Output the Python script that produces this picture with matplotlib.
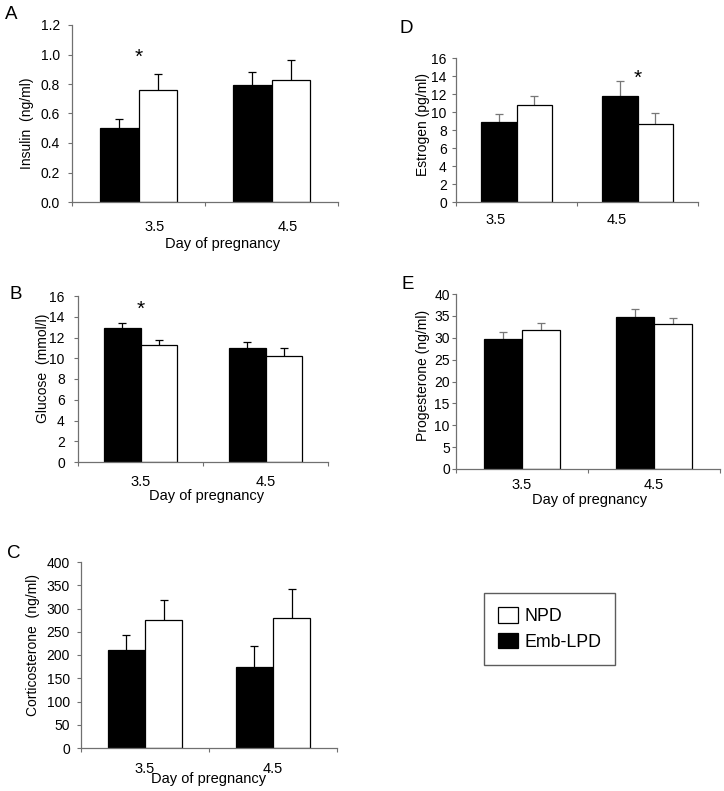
import numpy as np
import matplotlib.pyplot as plt
from matplotlib.patches import Patch

plt.rcParams['font.family'] = ['Liberation Sans', 'DejaVu Sans']

W, H = 724, 791

days = ['3.5', '4.5']
groups = ['NPD', 'Emb-LPD']

# values (mean, upper error)
insulin_lpd = [0.50, 0.795]
insulin_lpd_err = [0.06, 0.085]
insulin_npd = [0.76, 0.83]
insulin_npd_err = [0.11, 0.13]

glucose_lpd = [12.9, 11.0]
glucose_lpd_err = [0.5, 0.55]
glucose_npd = [11.3, 10.2]
glucose_npd_err = [0.45, 0.8]

cort_lpd = [211, 175]
cort_lpd_err = [32, 45]
cort_npd = [275, 279]
cort_npd_err = [44, 62]

estrogen_lpd = [8.9, 11.8]
estrogen_lpd_err = [0.9, 1.6]
estrogen_npd = [10.8, 8.7]
estrogen_npd_err = [0.95, 1.2]

prog_lpd = [29.7, 34.8]
prog_lpd_err = [1.7, 1.7]
prog_npd = [31.7, 33.1]
prog_npd_err = [1.6, 1.4]

# significance marks: (day index, y value)
insulin_star = (0, 0.98)
glucose_star = (0, 14.7)
estrogen_star = (1, 13.7)


def px_box(l, t, r, b):
    return [l / W, 1 - b / H, (r - l) / W, (b - t) / H]


def draw_panel(fig, box, letter, letter_xy, lpd, lpd_err, npd, npd_err,
               ylabel, ylabel_xy, ymax, ystep, yfmt, tick_y, tick_shift,
               xlabel_xy, ypad, errcolor, star=None):
    l, t, r, b = box
    ax = fig.add_axes(px_box(l, t, r, b))
    x = np.arange(len(days))
    w = 0.29
    ax.bar(x - w / 2, lpd, w, color='black', edgecolor='black', linewidth=0.9, zorder=2)
    ax.bar(x + w / 2, npd, w, color='white', edgecolor='black', linewidth=0.9, zorder=2)
    for xs, vals, errs in [(x - w / 2, lpd, lpd_err), (x + w / 2, npd, npd_err)]:
        eb = ax.errorbar(xs, vals, yerr=[np.zeros(len(errs)), errs], fmt='none',
                         ecolor=errcolor, elinewidth=0.9, capsize=3, capthick=0.9, zorder=1)
        eb[1][0].set_visible(False)

    ax.set_xlim(-0.5, len(days) - 0.5)
    ax.set_ylim(0, ymax)
    yt = np.arange(0, ymax + ystep / 2, ystep)
    ax.set_yticks(yt)
    ax.set_yticklabels([yfmt.format(v) for v in yt])

    # category boundaries as major ticks, labels as minor ticks
    ax.set_xticks(np.arange(-0.5, len(days), 1.0))
    ax.set_xticklabels([])
    unit = (r - l) / len(days)
    ax.set_xticks(x + tick_shift / unit, minor=True)
    ax.set_xticklabels(days, minor=True, fontsize=10.5)
    pad_px = (tick_y - b) - 5.4
    ax.tick_params(axis='x', which='minor', length=0, pad=pad_px * 0.72)
    ax.tick_params(axis='x', which='major', length=3, width=0.8, color='#707070')
    ax.tick_params(axis='y', length=3, width=0.8, color='#707070', pad=ypad * 0.72,
                   labelsize=10)

    for s in ['top', 'right']:
        ax.spines[s].set_visible(False)
    for s in ['left', 'bottom']:
        ax.spines[s].set_color('#707070')
        ax.spines[s].set_linewidth(0.9)

    ax.set_ylabel(ylabel, fontsize=10)
    ax.yaxis.set_label_coords((ylabel_xy[0] - l) / (r - l), (b - ylabel_xy[1]) / (b - t))
    ax.yaxis.label.set_va('center')
    if xlabel_xy is not None:
        ax.set_xlabel('Day of pregnancy', fontsize=10.5)
        ax.xaxis.set_label_coords((xlabel_xy[0] - l) / (r - l), (b - xlabel_xy[1]) / (b - t))
        ax.xaxis.label.set_va('center')

    if star is not None:
        ax.text(star[0], star[1], '*', ha='center', va='center', fontsize=15)

    fig.text(letter_xy[0] / W, 1 - (letter_xy[1] + 1.5) / H, letter,
             ha='center', va='center', fontsize=13.5)
    return ax


fig = plt.figure(figsize=(W / 100, H / 100), dpi=100)

draw_panel(fig, (72, 25, 338, 202), 'A', (11, 13), insulin_lpd, insulin_lpd_err,
           insulin_npd, insulin_npd_err, 'Insulin  (ng/ml)', (27, 123), 1.2, 0.2, '{:.1f}',
           225, 16.5, (223, 244), 8, 'black', insulin_star)
draw_panel(fig, (78, 296, 328, 462), 'B', (16, 293), glucose_lpd, glucose_lpd_err,
           glucose_npd, glucose_npd_err, 'Glucose  (mmol/l)', (43, 368), 16, 2, '{:.0f}',
           480, 0, (207, 496), 9, 'black', glucose_star)
draw_panel(fig, (81, 562, 337, 748), 'C', (14, 552), cort_lpd, cort_lpd_err,
           cort_npd, cort_npd_err, 'Corticosterone  (ng/ml)', (33, 645), 400, 50, '{:.0f}',
           767, 0, (209, 779), 7, 'black')
draw_panel(fig, (456, 58, 698, 202), 'D', (406, 27), estrogen_lpd, estrogen_lpd_err,
           estrogen_npd, estrogen_npd_err, 'Estrogen (pg/ml)', (423, 125), 16, 2, '{:.0f}',
           218, -21, None, 5, '#777777', estrogen_star)
draw_panel(fig, (456, 294, 720, 469), 'E', (408, 283), prog_lpd, prog_lpd_err,
           prog_npd, prog_npd_err, 'Progesterone (ng/ml)', (423, 375), 40, 5, '{:.0f}',
           483, 0, (590, 500), 2, '#777777')

handles = [Patch(facecolor='white', edgecolor='black', linewidth=0.9, label=groups[0]),
           Patch(facecolor='black', edgecolor='black', linewidth=0.9, label=groups[1])]
leg = fig.legend(handles=handles, loc='upper left', bbox_to_anchor=(484 / W, 1 - 593 / H),
                 borderaxespad=0, fancybox=False, fontsize=12.8, handlelength=1.1,
                 handleheight=0.95, handletextpad=0.35, labelspacing=0.45, borderpad=0.8,
                 edgecolor='#333333')
leg.get_frame().set_linewidth(1.0)

fig.savefig('out.png', dpi=100)
